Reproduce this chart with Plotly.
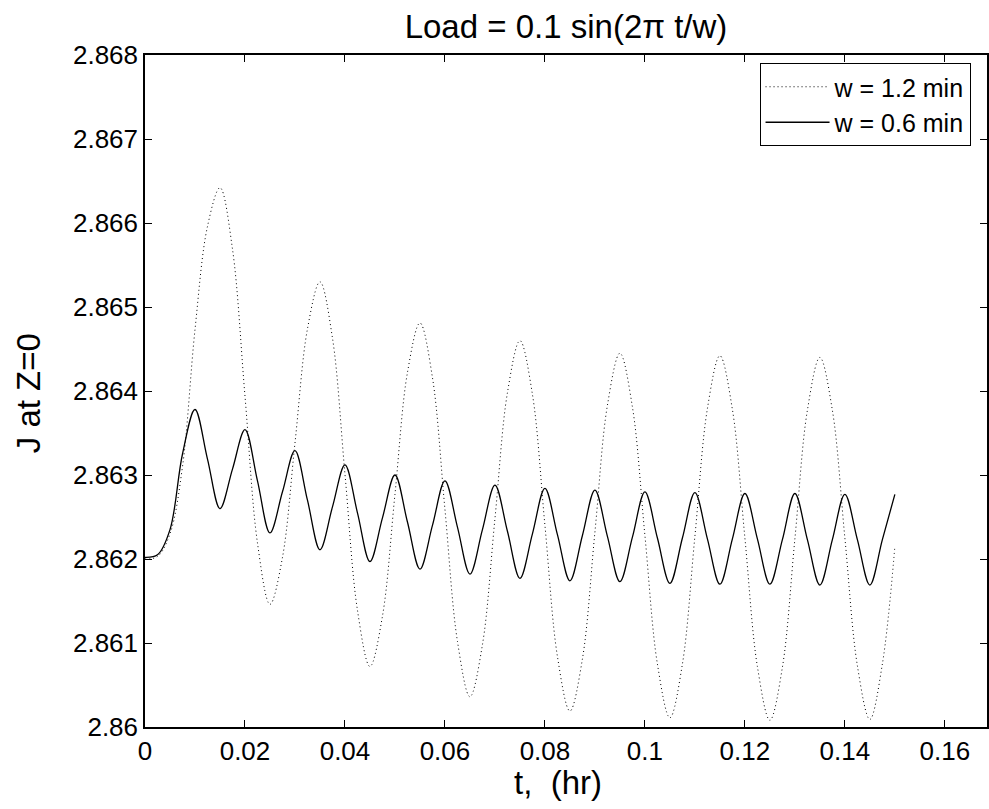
import plotly.graph_objects as go

# time samples (hr)
t = [round(i * 0.0025, 4) for i in range(61)]

# w = 1.2 min (dotted)
j_w12 = [
    2.86200, 2.86203, 2.86230, 2.86310, 2.86473, 2.86596, 2.86642, 2.86569,
    2.86394, 2.86219, 2.86146, 2.86202, 2.86338, 2.86474, 2.86530, 2.86463,
    2.86301, 2.86139, 2.86072, 2.86132, 2.86277, 2.86422, 2.86481, 2.86416,
    2.86259, 2.86102, 2.86036, 2.86098, 2.86248, 2.86398, 2.86460, 2.86396,
    2.86240, 2.86084, 2.86019, 2.86081, 2.86232, 2.86383, 2.86445, 2.86381,
    2.86228, 2.86075, 2.86011, 2.86075, 2.86227, 2.86379, 2.86442, 2.86378,
    2.86225, 2.86072, 2.86008, 2.86071, 2.86224, 2.86377, 2.86440, 2.86377,
    2.86225, 2.86073, 2.86009, 2.86075, 2.86215,
]

# w = 0.6 min (solid)
j_w06 = [
    2.86202, 2.86205, 2.86235, 2.86325, 2.86378, 2.86319, 2.86260, 2.86307,
    2.86354, 2.86293, 2.86231, 2.86280, 2.86329, 2.86270, 2.86211, 2.86262,
    2.86312, 2.86255, 2.86197, 2.86249, 2.86300, 2.86244, 2.86188, 2.86240,
    2.86293, 2.86238, 2.86182, 2.86235, 2.86288, 2.86233, 2.86177, 2.86230,
    2.86284, 2.86229, 2.86174, 2.86228, 2.86282, 2.86227, 2.86173, 2.86226,
    2.86280, 2.86225, 2.86171, 2.86225, 2.86279, 2.86224, 2.86170, 2.86224,
    2.86278, 2.86224, 2.86170, 2.86223, 2.86278, 2.86223, 2.86169, 2.86223,
    2.86277, 2.86223, 2.86169, 2.86223, 2.86277,
]

x_ticks = [0, 0.02, 0.04, 0.06, 0.08, 0.10, 0.12, 0.14, 0.16]
x_tick_text = ["0", "0.02", "0.04", "0.06", "0.08", "0.1", "0.12", "0.14", "0.16"]
y_ticks = [2.860, 2.861, 2.862, 2.863, 2.864, 2.865, 2.866, 2.867, 2.868]
y_tick_text = ["2.86", "2.861", "2.862", "2.863", "2.864", "2.865", "2.866", "2.867", "2.868"]

W, H = 989, 809
ML, MR, MT, MB = 145, 0, 55, 82
FONT = "Liberation Sans, Arial, Helvetica, sans-serif"

fig = go.Figure()
fig.add_trace(go.Scatter(
    x=t, y=j_w12, mode="lines", name="w = 1.2 min",
    line=dict(color="black", width=1, dash="1px,3px", shape="spline", smoothing=1),
))
fig.add_trace(go.Scatter(
    x=t, y=j_w06, mode="lines", name="w = 0.6 min",
    line=dict(color="black", width=1.3, shape="spline", smoothing=1),
))

fig.update_layout(
    width=W, height=H,
    margin=dict(l=ML, r=MR, t=MT, b=MB, pad=0),
    paper_bgcolor="white", plot_bgcolor="white",
    font=dict(family=FONT, color="black", size=26),
    title=dict(text="Load = 0.1 sin(2\u03c0 t/w)", x=0.5, xref="paper", xanchor="center",
               y=1 - 26 / H, yref="container", yanchor="middle",
               font=dict(size=33, family=FONT, color="black")),
    showlegend=True,
    legend=dict(x=(761 - ML) / (W - ML - MR), y=1 - (63 - MT) / (H - MT - MB),
                xanchor="left", yanchor="top",
                bgcolor="white", bordercolor="black", borderwidth=1,
                font=dict(size=25, family=FONT, color="black"),
                tracegroupgap=0, itemwidth=64),
    xaxis=dict(range=[0, (W - ML - MR) / 5011.0], tickvals=x_ticks, ticktext=x_tick_text,
               ticks="inside", ticklen=7, tickwidth=1, tickcolor="black",
               showline=True, linecolor="black", linewidth=1.5, mirror="ticks",
               showgrid=False, zeroline=False,
               tickfont=dict(size=26, family=FONT, color="black")),
    yaxis=dict(range=[2.860, 2.868], tickvals=y_ticks, ticktext=y_tick_text,
               ticks="inside", ticklen=7, tickwidth=1, tickcolor="black",
               showline=True, linecolor="black", linewidth=1.5, mirror="ticks",
               showgrid=False, zeroline=False,
               tickfont=dict(size=26, family=FONT, color="black")),
)

fig.add_annotation(text="t,\u00a0 (hr)", xref="paper", yref="paper",
                   x=(559 - ML) / (W - ML - MR), y=-(782 - (H - MB)) / (H - MT - MB),
                   xanchor="center", yanchor="middle", showarrow=False,
                   font=dict(size=33, family=FONT, color="black"))
fig.add_annotation(text="J at Z=0", xref="paper", yref="paper",
                   x=-(ML - 28) / (W - ML - MR), y=(H - MB - 393) / (H - MT - MB),
                   xanchor="center", yanchor="middle", showarrow=False, textangle=-90,
                   font=dict(size=33, family=FONT, color="black"))

fig.write_html("out.html")
